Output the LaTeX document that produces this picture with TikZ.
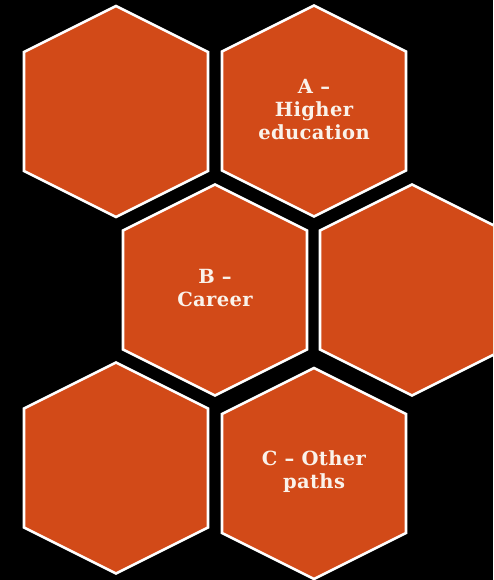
\documentclass[tikz,border=0pt]{standalone}
\usepackage{fontspec}
\newfontfamily\hexfont{DejaVu Serif}[LetterSpace=2]
\definecolor{hexorange}{HTML}{D24A18}
\definecolor{hextext}{HTML}{FAF2EA}
\tikzset{
  hexline/.style={draw=white, line width=2.6pt, fill=hexorange, line join=miter},
  hexlabel/.style={text=hextext, align=center, font=\hexfont\bfseries\fontsize{19.5}{23}\selectfont, inner sep=0pt}
}
\newcommand\hexat[2]{\draw[hexline] (#1,#2) ++(0,-105.5) -- ++(92,46) -- ++(0,119) -- ++(-92,46) -- ++(-92,-46) -- ++(0,-119) -- cycle;}
\begin{document}
\begin{tikzpicture}[x=1pt,y=-1pt]
\useasboundingbox (0,0) rectangle (493,580);
\fill[black] (0,0) rectangle (493,580);
\clip (0,0) rectangle (493,580);
\hexat{116}{111.5}
\hexat{314}{111}
\hexat{215}{290}
\hexat{412}{290}
\hexat{116}{468}
\hexat{314}{473.5}
\node[hexlabel] (a) at (314,110) {A –\\Higher\\education};
\node[hexlabel] (b) at (215,288) {B –\\Career};
\node[hexlabel] (c) at (314,472) {C – Other\\paths};
\end{tikzpicture}
\end{document}
